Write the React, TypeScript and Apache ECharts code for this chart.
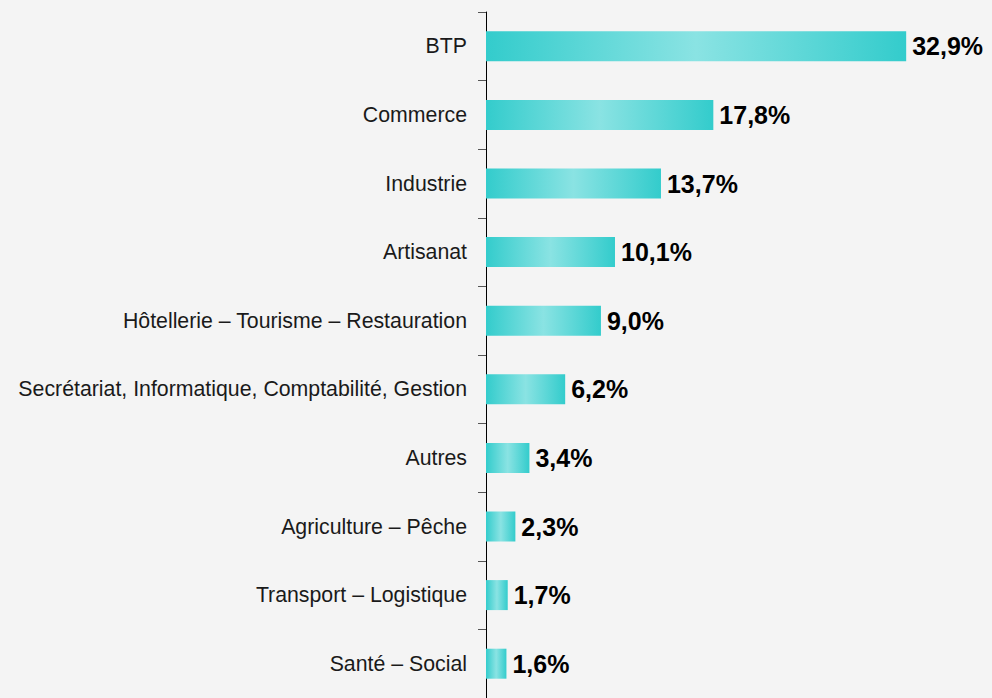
import React, { useEffect, useRef } from "react";
import * as echarts from "echarts";

const categories = [
  "BTP",
  "Commerce",
  "Industrie",
  "Artisanat",
  "Hôtellerie – Tourisme – Restauration",
  "Secrétariat, Informatique, Comptabilité, Gestion",
  "Autres",
  "Agriculture – Pêche",
  "Transport – Logistique",
  "Santé – Social",
];
const values = [32.9, 17.8, 13.7, 10.1, 9.0, 6.2, 3.4, 2.3, 1.7, 1.6];

const FONT = "'Liberation Sans', Arial, sans-serif";

export default function App() {
  const ref = useRef<HTMLDivElement>(null);
  useEffect(() => {
    if (!ref.current) return;
    const chart = echarts.init(ref.current, null, { renderer: "svg" });
    const grad = new echarts.graphic.LinearGradient(0, 0, 1, 0, [
      { offset: 0, color: "#33cccc" },
      { offset: 0.5, color: "#8ae3e3" },
      { offset: 1, color: "#33cccc" },
    ]);
    chart.setOption({
      animation: false,
      backgroundColor: "#f4f4f4",
      textStyle: { fontFamily: FONT },
      grid: { left: 486, right: 59, top: 12, bottom: -2, containLabel: false },
      xAxis: { type: "value", min: 0, max: 35, show: false },
      yAxis: {
        type: "category",
        data: categories,
        inverse: true,
        axisLine: { show: true, lineStyle: { color: "#000", width: 1 } },
        axisTick: { show: true, length: 8, lineStyle: { color: "#555" } },
        axisLabel: {
          margin: 19,
          fontSize: 21.3,
          color: "#1a1a1a",
          fontFamily: FONT,
        },
        splitLine: { show: false },
      },
      series: [
        {
          type: "bar",
          data: values,
          barWidth: 30,
          itemStyle: { color: grad },
          label: {
            show: true,
            position: "right",
            distance: 6,
            fontSize: 25,
            fontWeight: "bold",
            color: "#000",
            fontFamily: FONT,
            formatter: (p: any) => p.value.toFixed(1).replace(".", ",") + "%",
          },
        },
      ],
    });
    return () => chart.dispose();
  }, []);
  return (
    <div
      ref={ref}
      style={{ position: "fixed", left: 0, top: 0, width: 992, height: 698 }}
    />
  );
}
